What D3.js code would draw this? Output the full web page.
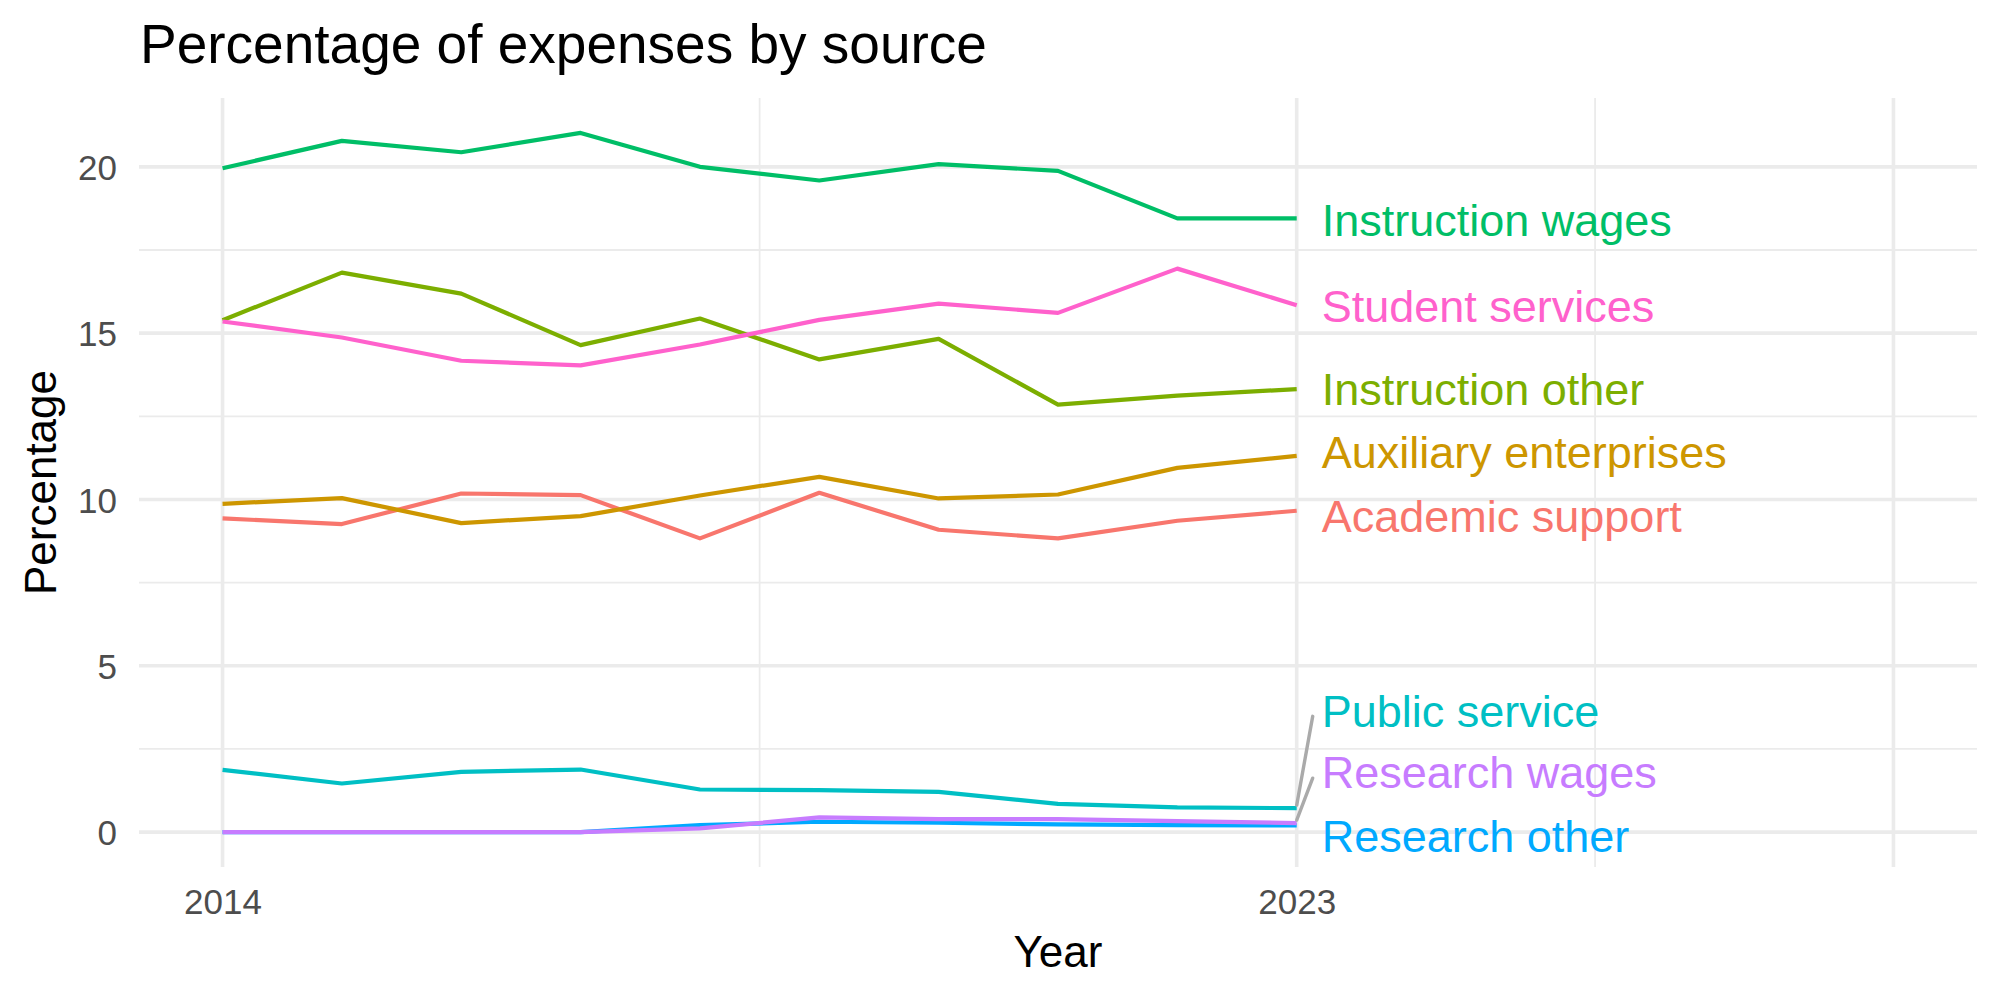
<!DOCTYPE html>
<html>
<head>
<meta charset="utf-8">
<script src="https://cdn.jsdelivr.net/npm/d3@7"></script>
<style>
  body { margin: 0; background: #fff; }
  svg { display: block; font-family: "Liberation Sans", Arial, sans-serif; }
</style>
</head>
<body>
<svg class="chart" width="2000" height="1000"></svg>
<script>
// Years
const years = [2014, 2015, 2016, 2017, 2018, 2019, 2020, 2021, 2022, 2023];

// Series names (alphabetical, as in the colour order)
const sources = [
  "Academic support", "Auxiliary enterprises", "Instruction other", "Instruction wages",
  "Public service", "Research other", "Research wages", "Student services"
];

// Series values (percent)
const academicSupport = [9.43, 9.26, 10.18, 10.13, 8.83, 10.20, 9.09, 8.83, 9.36, 9.66];
const auxiliaryEnterprises = [9.87, 10.04, 9.29, 9.50, 10.12, 10.68, 10.03, 10.15, 10.95, 11.31];
const instructionOther = [15.39, 16.82, 16.19, 14.64, 15.44, 14.21, 14.83, 12.85, 13.12, 13.32];
const instructionWages = [19.96, 20.78, 20.44, 21.02, 20.00, 19.59, 20.08, 19.88, 18.45, 18.45];
const publicService = [1.87, 1.46, 1.81, 1.88, 1.28, 1.26, 1.21, 0.85, 0.74, 0.72];
const researchOther = [0, 0, 0, 0, 0.21, 0.31, 0.28, 0.23, 0.21, 0.20];
const researchWages = [0, 0, 0, 0, 0.11, 0.44, 0.39, 0.39, 0.33, 0.27];
const studentServices = [15.35, 14.87, 14.17, 14.03, 14.66, 15.40, 15.89, 15.61, 16.94, 15.84];

// Label positions after repelling (percent)
const labelY = [9.51, 11.43, 13.32, 18.42, 3.66, -0.12, 1.80, 15.81];

// Tick values
const xLabelTicks = [2014, 2023];
const xMajor = [2014, 2023, 2028];
const xMinor = [2018.5, 2025.5];
const yMajor = [0, 5, 10, 15, 20];
const yMinor = [2.5, 7.5, 12.5, 17.5];

const colors = ["#F8766D", "#CD9600", "#7CAE00", "#00BE67", "#00BFC4", "#00A9FF", "#C77CFF", "#FF61CC"];

const values = [academicSupport, auxiliaryEnterprises, instructionOther, instructionWages,
  publicService, researchOther, researchWages, studentServices];

const series = sources.map((name, i) => ({
  name: name,
  color: colors[i],
  labelY: labelY[i],
  points: years.map((yr, j) => ({ year: yr, value: values[i][j] }))
}));

// Panel
const panelLeft = 139, panelRight = 1977, panelTop = 98, panelBottom = 867;

const x = d3.scaleLinear()
  .domain([2014 - 0.7, 2028 + 0.7])
  .range([panelLeft, panelRight]);

const y = d3.scaleLinear()
  .domain([-1.05, 21.02 + 1.05])
  .range([panelBottom, panelTop]);

const svg = d3.select(".chart");

// Grid
const grid = svg.append("g");
grid.selectAll(".ymin").data(yMinor).enter().append("line")
  .attr("x1", panelLeft).attr("x2", panelRight)
  .attr("y1", d => y(d)).attr("y2", d => y(d))
  .attr("stroke", "#EBEBEB").attr("stroke-width", 1.8);
grid.selectAll(".xmin").data(xMinor).enter().append("line")
  .attr("y1", panelTop).attr("y2", panelBottom)
  .attr("x1", d => x(d)).attr("x2", d => x(d))
  .attr("stroke", "#EBEBEB").attr("stroke-width", 1.8);
grid.selectAll(".ymaj").data(yMajor).enter().append("line")
  .attr("x1", panelLeft).attr("x2", panelRight)
  .attr("y1", d => y(d)).attr("y2", d => y(d))
  .attr("stroke", "#EBEBEB").attr("stroke-width", 3.6);
grid.selectAll(".xmaj").data(xMajor).enter().append("line")
  .attr("y1", panelTop).attr("y2", panelBottom)
  .attr("x1", d => x(d)).attr("x2", d => x(d))
  .attr("stroke", "#EBEBEB").attr("stroke-width", 3.6);

// Axes
const yAxis = svg.append("g")
  .attr("transform", "translate(" + (panelLeft - 22) + ",0)")
  .call(d3.axisLeft(y).tickValues(yMajor).tickSize(0).tickPadding(0));
yAxis.select(".domain").remove();
yAxis.selectAll("text")
  .attr("fill", "#4D4D4D")
  .attr("font-size", 35)
  .attr("dy", "0.36em")
  .style("font-family", "Liberation Sans, Arial, sans-serif");

const xAxis = svg.append("g")
  .attr("transform", "translate(0," + (panelBottom + 22) + ")")
  .call(d3.axisBottom(x).tickValues(xLabelTicks).tickFormat(d3.format("d")).tickSize(0).tickPadding(0));
xAxis.select(".domain").remove();
xAxis.selectAll("text")
  .attr("fill", "#4D4D4D")
  .attr("font-size", 35)
  .attr("dy", "0.72em")
  .style("font-family", "Liberation Sans, Arial, sans-serif");

// Lines
const line = d3.line()
  .x(d => x(d.year))
  .y(d => y(d.value));

svg.append("g")
  .selectAll("path")
  .data(series).enter()
  .append("path")
  .attr("d", d => line(d.points))
  .attr("fill", "none")
  .attr("stroke", d => d.color)
  .attr("stroke-width", 4.2)
  .attr("stroke-linejoin", "round");

// Label segments (only where the label moved away from the end point)
const lastYear = years[years.length - 1];
svg.append("g")
  .selectAll("line")
  .data(series.filter(d => Math.abs(d.labelY - d.points[d.points.length - 1].value) > 1))
  .enter().append("line")
  .attr("x1", x(lastYear))
  .attr("y1", d => y(d.points[d.points.length - 1].value) - 3)
  .attr("x2", x(lastYear) + 16)
  .attr("y2", d => y(d.labelY) + 6)
  .attr("stroke", "#AAAAAA")
  .attr("stroke-width", 3.4)
  .attr("stroke-linecap", "round");

// Labels
svg.append("g")
  .selectAll("text")
  .data(series).enter()
  .append("text")
  .attr("x", x(lastYear) + 25)
  .attr("y", d => y(d.labelY))
  .attr("dy", "0.36em")
  .attr("font-size", 45)
  .attr("fill", d => d.color)
  .text(d => d.name);

// Titles
svg.append("text")
  .attr("x", 140).attr("y", 63)
  .attr("font-size", 55)
  .text("Percentage of expenses by source");

svg.append("text")
  .attr("x", (panelLeft + panelRight) / 2).attr("y", 967)
  .attr("text-anchor", "middle")
  .attr("font-size", 44)
  .text("Year");

svg.append("text")
  .attr("transform", "translate(56," + ((panelTop + panelBottom) / 2) + ") rotate(-90)")
  .attr("text-anchor", "middle")
  .attr("font-size", 44)
  .text("Percentage");
</script>
</body>
</html>
